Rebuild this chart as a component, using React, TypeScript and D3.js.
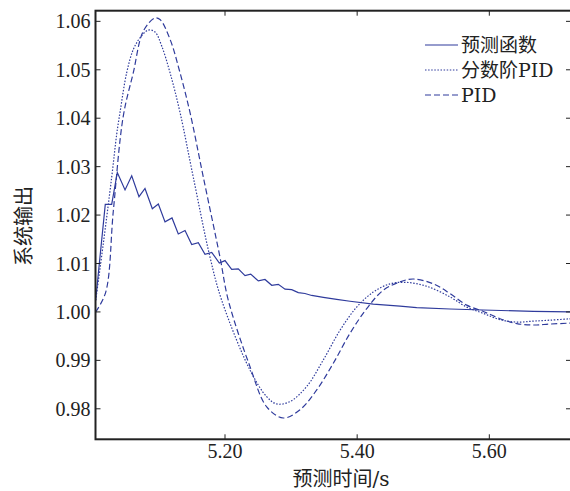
import { useEffect } from 'react';
import * as d3 from 'd3';

// time (s) and system output
const predictT = [5.0043, 5.0098, 5.0188, 5.0285, 5.037, 5.0487, 5.0588, 5.0698, 5.0789, 5.09, 5.0991, 5.1092, 5.1198, 5.1293, 5.1395, 5.1496, 5.1596, 5.1697, 5.1799, 5.1914, 5.2, 5.2101, 5.2201, 5.2303, 5.2389, 5.2504, 5.2605, 5.2707, 5.2807, 5.2908, 5.3009, 5.3109, 5.321, 5.3312, 5.3488, 5.369, 5.3892, 5.4244, 5.4648, 5.4901, 5.5405, 5.5909, 5.6666, 5.7236];
const predictV = [1.0024, 1.01, 1.0222, 1.0222, 1.0288, 1.0252, 1.0281, 1.0238, 1.0255, 1.0213, 1.0223, 1.0186, 1.0194, 1.0161, 1.0168, 1.0139, 1.0143, 1.0119, 1.0123, 1.0101, 1.0106, 1.0088, 1.0089, 1.0075, 1.0078, 1.0064, 1.0067, 1.0055, 1.0057, 1.0047, 1.0046, 1.004, 1.0038, 1.0034, 1.003, 1.0026, 1.0022, 1.0016, 1.0012, 1.0009, 1.0006, 1.0004, 1.0001, 1.0];

const fracT = [5.0043, 5.0158, 5.0285, 5.0361, 5.0411, 5.0512, 5.0612, 5.0714, 5.0839, 5.0941, 5.1042, 5.1168, 5.1319, 5.152, 5.1773, 5.195, 5.2378, 5.2631, 5.2782, 5.2984, 5.3236, 5.3488, 5.374, 5.3993, 5.4244, 5.4497, 5.475, 5.5053, 5.5405, 5.5658, 5.5909, 5.6162, 5.6415, 5.6666, 5.6919, 5.7236];
const fracV = [1.0024, 1.0141, 1.0278, 1.0367, 1.0412, 1.0494, 1.0542, 1.0566, 1.0582, 1.0578, 1.0549, 1.0494, 1.0412, 1.0278, 1.0113, 1.0024, 0.988, 0.9825, 0.981, 0.9815, 0.9846, 0.9901, 0.9962, 1.001, 1.0041, 1.0058, 1.0061, 1.0053, 1.0031, 1.001, 0.9997, 0.9984, 0.9979, 0.9981, 0.9983, 0.9986];

const pidT = [5.0043, 5.0195, 5.031, 5.0461, 5.0612, 5.0764, 5.0941, 5.1016, 5.1168, 5.1319, 5.147, 5.1672, 5.1924, 5.205, 5.2378, 5.2631, 5.2882, 5.3135, 5.3388, 5.3639, 5.3892, 5.4145, 5.4396, 5.4648, 5.485, 5.5152, 5.5405, 5.5658, 5.5909, 5.6162, 5.6415, 5.6666, 5.6919, 5.7236];
const pidV = [1.0, 1.0041, 1.0209, 1.0405, 1.0494, 1.058, 1.0607, 1.0604, 1.0563, 1.0494, 1.0412, 1.0278, 1.0113, 1.0024, 0.9887, 0.9804, 0.9781, 0.9798, 0.9839, 0.9894, 0.9956, 1.0007, 1.0045, 1.0062, 1.0068, 1.0058, 1.0038, 1.0014, 1.0001, 0.9986, 0.9976, 0.9973, 0.9975, 0.9977];

const xTicks = [5.2, 5.4, 5.6];
const yTicks = [0.98, 0.99, 1.0, 1.01, 1.02, 1.03, 1.04, 1.05, 1.06];
const legendNames = ['预测函数', '分数阶PID', 'PID'];

const W = 570;
const H = 491;
const SERIF = 'serif';
const CJK = 'Noto Sans CJK SC';
const LINE = '#2f3b9c';
const AXIS = '#222';

// Latin runs in the serif face, CJK runs in the CJK face
function Mixed({ s }: { s: string }) {
  const parts = s.match(/[\u4e00-\u9fff]+|[^\u4e00-\u9fff]+/g) || [];
  return (
    <>
      {parts.map((p, i) => (
        <tspan key={i} fontFamily={/[\u4e00-\u9fff]/.test(p) ? CJK : 'DejaVu Serif'}>{p}</tspan>
      ))}
    </>
  );
}

export default function App() {
  useEffect(() => {
    document.body.style.margin = '0';
  }, []);

  const left = 95.5, right = 571, top = 10.7, bottom = 439.3;
  const x = d3.scaleLinear().domain([5.004, 5.7236]).range([left, right]);
  const y = d3.scaleLinear().domain([0.9737, 1.0622]).range([bottom, top]);

  const toPts = (ts: number[], vs: number[]) => ts.map((t, i) => [t, vs[i]] as [number, number]);
  const straight = d3.line<[number, number]>().x(d => x(d[0])).y(d => y(d[1]));
  const smooth = d3.line<[number, number]>().x(d => x(d[0])).y(d => y(d[1])).curve(d3.curveCatmullRom);

  const series = [
    { d: straight(toPts(predictT, predictV)), dash: undefined as string | undefined },
    { d: smooth(toPts(fracT, fracV)), dash: '1.5,1.6' },
    { d: smooth(toPts(pidT, pidV)), dash: '6,3' },
  ];

  return (
    <svg width={W} height={H} style={{ display: 'block' }}>
      <rect width={W} height={H} fill="#fff" />
      <defs>
        <clipPath id="plot">
          <rect x={left} y={top} width={right - left} height={bottom - top} />
        </clipPath>
      </defs>

      <g clipPath="url(#plot)">
        {series.map((s, i) => (
          <path key={i} d={s.d || ''} fill="none" stroke={LINE} strokeWidth={1.2} strokeDasharray={s.dash} />
        ))}
      </g>

      {/* frame */}
      <rect x={left} y={top} width={right - left} height={bottom - top} fill="none" stroke={AXIS} strokeWidth={2} />

      {/* y ticks */}
      {yTicks.map(v => (
        <g key={v}>
          <line x1={left} x2={left + 5} y1={y(v)} y2={y(v)} stroke={AXIS} strokeWidth={1} />
          <line x1={right - 5} x2={right} y1={y(v)} y2={y(v)} stroke={AXIS} strokeWidth={1} />
          <text x={left - 5} y={y(v)} dy="0.35em" textAnchor="end" fontSize={20} fill={AXIS} fontFamily={SERIF}>
            {v.toFixed(2)}
          </text>
        </g>
      ))}

      {/* x ticks */}
      {xTicks.map(t => (
        <g key={t}>
          <line x1={x(t)} x2={x(t)} y1={bottom} y2={bottom - 5} stroke={AXIS} strokeWidth={1} />
          <line x1={x(t)} x2={x(t)} y1={top} y2={top + 5} stroke={AXIS} strokeWidth={1} />
          <text x={x(t)} y={bottom + 19} textAnchor="middle" fontSize={20} fill={AXIS} fontFamily={SERIF}>
            {t.toFixed(2)}
          </text>
        </g>
      ))}

      <text x={341} y={486} textAnchor="middle" fontSize={20} fill={AXIS}><Mixed s="预测时间/s" /></text>
      <text transform="translate(22,226) rotate(-90)" textAnchor="middle" dominantBaseline="central" fontSize={20} fill={AXIS} fontFamily={CJK}>
        系统输出
      </text>

      {/* legend */}
      {legendNames.map((name, i) => {
        const ly = 45 + i * 25;
        return (
          <g key={name}>
            <line x1={425} x2={458} y1={ly} y2={ly} stroke={LINE} strokeWidth={1.2} strokeDasharray={series[i].dash} />
            <text x={461} y={ly} dy="0.35em" fontSize={19} fill={AXIS}><Mixed s={name} /></text>
          </g>
        );
      })}
    </svg>
  );
}
